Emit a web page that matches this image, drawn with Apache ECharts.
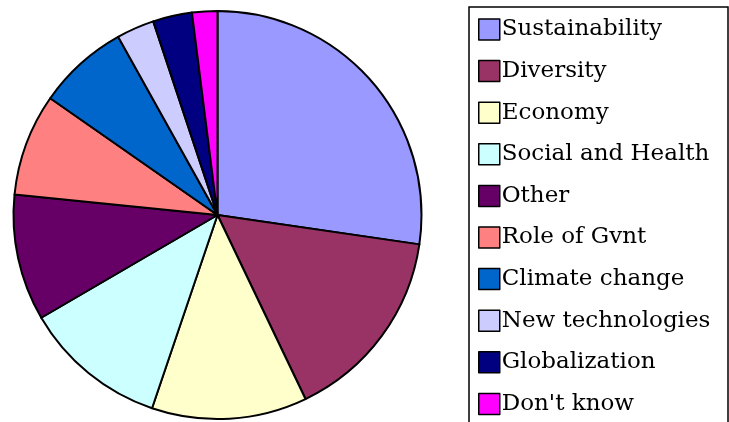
<!DOCTYPE html>
<html>
<head>
<meta charset="utf-8">
<script src="https://cdn.jsdelivr.net/npm/echarts@6/dist/echarts.min.js"></script>
<style>
html,body{margin:0;padding:0;background:#fff;}
#chart{width:729px;height:422px;}
</style>
</head>
<body>
<div id="chart"></div>
<script>
const categories = ["Sustainability","Diversity","Economy","Social and Health","Other","Role of Gvnt","Climate change","New technologies","Globalization","Don't know"];
const values = [27.3, 15.6, 12.3, 11.4, 10.0, 8.1, 7.2, 3.0, 3.1, 2.0];
const colors = ["#9999FF","#993366","#FFFFCC","#CCFFFF","#660066","#FF8080","#0066CC","#CCCCFF","#000080","#FF00FF"];

const chart = echarts.init(document.getElementById('chart'), null, {renderer:'canvas'});
chart.setOption({
  animation: false,
  backgroundColor: '#ffffff',
  graphic: [{
    type: 'rect',
    shape: {x: 469, y: 7, width: 259, height: 430},
    style: {fill: '#ffffff', stroke: '#000000', lineWidth: 1.5},
    z: 0
  }],
  legend: {
    orient: 'vertical',
    left: 478,
    top: 18,
    width: 250,
    height: 500,
    padding: 0,
    itemWidth: 21,
    itemHeight: 21,
    itemGap: 18.6,
    icon: 'rect',
    selectedMode: false,
    data: categories,
    itemStyle: {borderColor: '#000', borderWidth: 1.5},
    textStyle: {fontFamily: 'DejaVu Serif', fontSize: 23, color: '#000', padding: [0,0,0,-3]},
    z: 5
  },
  series: [{
    type: 'pie',
    center: [217.5, 215],
    radius: [0, 204],
    startAngle: 90,
    clockwise: true,
    label: {show: false},
    labelLine: {show: false},
    emphasis: {disabled: true},
    itemStyle: {borderColor: '#000', borderWidth: 2},
    data: categories.map((c, i) => ({name: c, value: values[i], itemStyle: {color: colors[i]}}))
  }]
});
</script>
</body>
</html>
